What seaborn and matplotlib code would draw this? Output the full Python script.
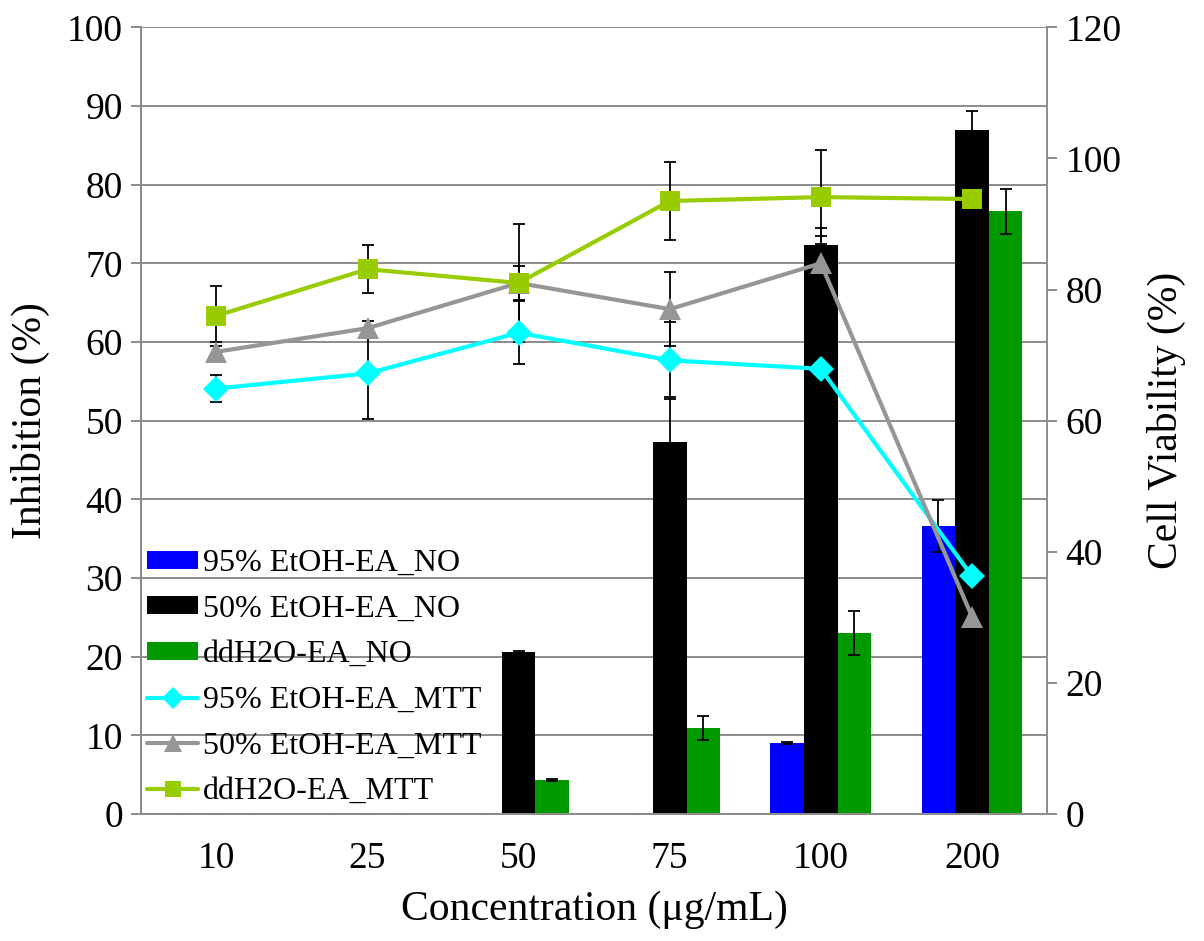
import numpy as np
import pandas as pd
import matplotlib
matplotlib.use('Agg')
import matplotlib.pyplot as plt
import seaborn as sns
from matplotlib.patches import Patch
from matplotlib.lines import Line2D
from matplotlib.ticker import MultipleLocator, FixedLocator

# data
conc = ['10', '25', '50', '75', '100', '200']

# bars: inhibition (%), left axis
eth95_no = [0, 0, 0, 0, 9.0, 36.6]
eth95_no_err = [0, 0, 0, 0, 0.1, 3.3]
eth50_no = [0, 0, 20.6, 47.3, 72.3, 86.9]
eth50_no_err = [0, 0, 0.1, 5.7, 1.2, 2.4]
h2o_no = [0, 0, 4.3, 10.9, 23.0, 76.6]
h2o_no_err = [0, 0, 0.1, 1.5, 2.8, 2.9]

# lines: cell viability (%), right axis
eth95_mtt = [64.9, 67.2, 73.4, 69.2, 67.9, 36.3]
eth95_mtt_err = [2.0, 6.9, 4.8, 5.9, 0.5, 0.5]
eth50_mtt = [70.5, 74.1, 81.0, 77.0, 84.0, 30.1]
eth50_mtt_err = [1.5, 1.1, 2.6, 5.6, 5.4, 0.5]
h2o_mtt = [76.0, 83.1, 81.0, 93.5, 94.1, 93.8]
h2o_mtt_err = [4.6, 3.7, 9.0, 6.0, 7.2, 1.0]

bar_names = ['95% EtOH-EA_NO', '50% EtOH-EA_NO', 'ddH2O-EA_NO']
line_names = ['95% EtOH-EA_MTT', '50% EtOH-EA_MTT', 'ddH2O-EA_MTT']
bar_colors = ['#0000FF', '#000000', '#009900']
line_colors = ['#00FFFF', '#969696', '#99CC00']
line_markers = ['D', '^', 's']

sns.set_style('white')
plt.rcParams['font.family'] = ['Liberation Serif', 'DejaVu Serif']
plt.rcParams['text.color'] = 'black'
plt.rcParams['axes.labelcolor'] = 'black'

df_bar = pd.DataFrame({
    'conc': conc * 3,
    'series': np.repeat(bar_names, len(conc)),
    'value': eth95_no + eth50_no + h2o_no,
})
df_line = pd.DataFrame({
    'conc': conc * 3,
    'series': np.repeat(line_names, len(conc)),
    'value': eth95_mtt + eth50_mtt + h2o_mtt,
})

fig = plt.figure(figsize=(12.04, 9.41), dpi=100)
ax = fig.add_axes([0.117, 0.135, 0.753, 0.836])

grid_c = '#8c8c8c'
ax.set_axisbelow(True)
ax.yaxis.grid(True, color=grid_c, linewidth=1.4)

sns.barplot(data=df_bar, x='conc', y='value', hue='series', order=conc,
            hue_order=bar_names, palette=bar_colors, errorbar=None,
            width=0.667, saturation=1, linewidth=0, ax=ax, legend=False)

for cont, err in zip(ax.containers, [eth95_no_err, eth50_no_err, h2o_no_err]):
    xs = [b.get_x() + b.get_width() / 2 for b in cont]
    hs = [b.get_height() for b in cont]
    ax.errorbar(xs, hs, yerr=err, fmt='none', ecolor='black',
                elinewidth=1.3, capsize=4.5, capthick=1.3, zorder=3)

ax.set_xlim(-0.5, len(conc) - 0.5)
ax.set_ylim(0, 100)
ax.yaxis.set_major_locator(MultipleLocator(10))

ax2 = ax.twinx()
for d, err in zip([eth95_mtt, eth50_mtt, h2o_mtt],
                  [eth95_mtt_err, eth50_mtt_err, h2o_mtt_err]):
    ax2.errorbar(np.arange(len(conc)), d, yerr=err, fmt='none', ecolor='black',
                 elinewidth=1.3, capsize=4.5, capthick=1.3, zorder=1)

sns.pointplot(data=df_line, x='conc', y='value', hue='series', order=conc,
              hue_order=line_names, palette=line_colors, markers=line_markers,
              linestyles='-', errorbar=None, ax=ax2, legend=False,
              linewidth=3, markersize=12)
msizes = [13, 16, 15]
for ln, ms in zip(ax2.lines[-3:], msizes):
    ln.set_markersize(ms)
    ln.set_zorder(3)
    ln.set_markeredgewidth(0)

ax2.set_xlim(-0.5, len(conc) - 0.5)
ax2.set_ylim(0, 120)
ax2.yaxis.set_major_locator(MultipleLocator(20))
ax2.set_xlabel('')

# axes styling
spine_c = '#8c8c8c'
for a in (ax, ax2):
    for s in a.spines.values():
        s.set_color(spine_c)
        s.set_linewidth(1.4)
    a.spines['top'].set_visible(False)
ax.spines['right'].set_visible(False)

fs = 27
ax.tick_params(axis='y', which='major', direction='out', length=7, width=1.4,
               color=spine_c, labelcolor='black', labelsize=fs, pad=6)
ax2.tick_params(axis='y', which='major', direction='out', length=7, width=1.4,
                color=spine_c, labelcolor='black', labelsize=fs, pad=6)
ax.set_xticks(range(len(conc)))
ax.set_xticklabels(conc)
ax.xaxis.set_minor_locator(FixedLocator(np.arange(-0.5, len(conc), 1.0)))
ax.tick_params(axis='x', which='major', length=0, labelsize=fs, pad=20,
               labelcolor='black')
ax.tick_params(axis='x', which='minor', direction='out', length=9, width=1.4,
               color=spine_c)

ax.set_xlabel('Concentration (μg/mL)', fontsize=30, labelpad=10)
ax.set_ylabel('Inhibition (%)', fontsize=30, labelpad=12)
ax2.set_ylabel('Cell Viability (%)', fontsize=30, labelpad=18)

handles = [Patch(facecolor=c, edgecolor='none') for c in bar_colors]
handles += [Line2D([0], [0], color=c, marker=m, lw=3, markersize=ms, markeredgewidth=0)
            for c, m, ms in zip(line_colors, line_markers, [11, 13, 12])]
leg = ax2.legend(handles, bar_names + line_names, loc='upper left',
                 bbox_to_anchor=(0.0, 0.345), frameon=False, fontsize=23,
                 handlelength=1.6, handleheight=0.5, handletextpad=0.15,
                 labelspacing=0.52, borderaxespad=0, borderpad=0.2)

fig.savefig('out.png', dpi=100)
